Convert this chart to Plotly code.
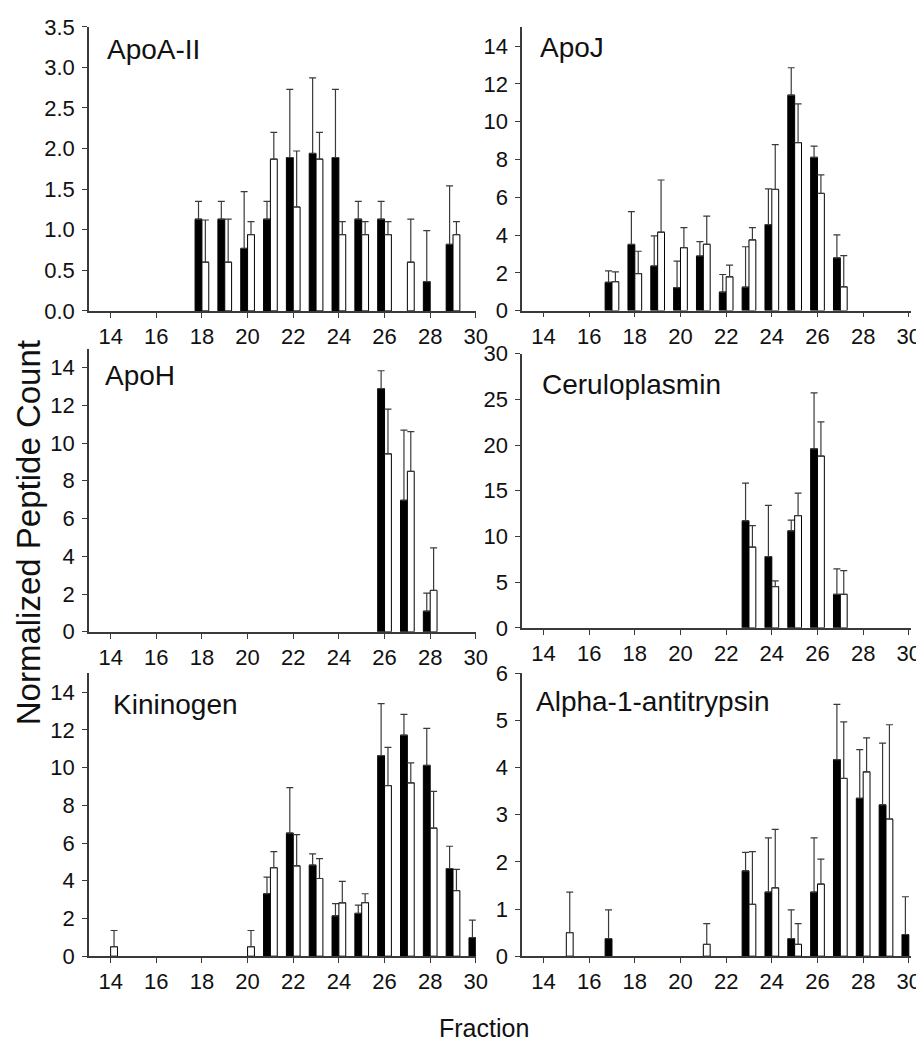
import plotly.graph_objects as go

fractions = list(range(14, 31))  # 14..30

# ApoA-II
apoa2_black = [0, 0, 0, 0, 1.13, 1.13, 0.77, 1.13, 1.89, 1.94, 1.89, 1.13, 1.13, 0, 0.36, 0.82, 0]
apoa2_black_err = [0, 0, 0, 0, 0.22, 0.22, 0.70, 0.22, 0.84, 0.93, 0.84, 0.22, 0.22, 0, 0.63, 0.72, 0]
apoa2_white = [0, 0, 0, 0, 0.60, 0.60, 0.94, 1.87, 1.28, 1.87, 0.94, 0.94, 0.94, 0.60, 0, 0.94, 0]
apoa2_white_err = [0, 0, 0, 0, 0.52, 0.53, 0.16, 0.33, 0.69, 0.33, 0.16, 0.16, 0.16, 0.53, 0, 0.16, 0]

# ApoJ
apoj_black = [0, 0, 0, 1.50, 3.50, 2.36, 1.22, 2.89, 0.98, 1.24, 4.55, 11.40, 8.11, 2.79, 0, 0, 0]
apoj_black_err = [0, 0, 0, 0.60, 1.74, 1.59, 1.40, 0.76, 0.93, 2.14, 1.89, 1.45, 0.59, 1.22, 0, 0, 0]
apoj_white = [0, 0, 0, 1.53, 1.96, 4.15, 3.33, 3.51, 1.79, 3.74, 6.41, 8.89, 6.20, 1.26, 0, 0, 0]
apoj_white_err = [0, 0, 0, 0.52, 1.18, 2.76, 1.06, 1.49, 0.62, 0.65, 2.37, 2.05, 0.98, 1.65, 0, 0, 0]

# ApoH
apoh_black = [0, 0, 0, 0, 0, 0, 0, 0, 0, 0, 0, 0, 12.88, 6.97, 1.09, 0, 0]
apoh_black_err = [0, 0, 0, 0, 0, 0, 0, 0, 0, 0, 0, 0, 0.95, 3.71, 0.96, 0, 0]
apoh_white = [0, 0, 0, 0, 0, 0, 0, 0, 0, 0, 0, 0, 9.43, 8.50, 2.19, 0, 0]
apoh_white_err = [0, 0, 0, 0, 0, 0, 0, 0, 0, 0, 0, 0, 2.37, 2.11, 2.26, 0, 0]

# Ceruloplasmin
cp_black = [0, 0, 0, 0, 0, 0, 0, 0, 0, 11.71, 7.79, 10.61, 19.58, 3.67, 0, 0, 0]
cp_black_err = [0, 0, 0, 0, 0, 0, 0, 0, 0, 4.13, 5.60, 1.17, 6.12, 2.78, 0, 0, 0]
cp_white = [0, 0, 0, 0, 0, 0, 0, 0, 0, 8.83, 4.52, 12.28, 18.79, 3.67, 0, 0, 0]
cp_white_err = [0, 0, 0, 0, 0, 0, 0, 0, 0, 2.35, 0.61, 2.46, 3.74, 2.60, 0, 0, 0]

# Kininogen
kin_black = [0, 0, 0, 0, 0, 0, 0, 3.31, 6.53, 4.83, 2.14, 2.27, 10.64, 11.72, 10.12, 4.65, 0.98]
kin_black_err = [0, 0, 0, 0, 0, 0, 0, 0.88, 2.41, 0.60, 0.65, 0.44, 2.75, 1.10, 1.96, 1.18, 0.93]
kin_white = [0.50, 0, 0, 0, 0, 0, 0.50, 4.69, 4.79, 4.12, 2.83, 2.84, 9.05, 9.19, 6.79, 3.48, 0]
kin_white_err = [0.86, 0, 0, 0, 0, 0, 0.86, 0.86, 1.66, 1.05, 1.14, 0.47, 2.02, 1.06, 1.95, 1.12, 0]

# Alpha-1-antitrypsin
a1at_black = [0, 0, 0, 0.37, 0, 0, 0, 0, 0, 1.81, 1.36, 0.37, 1.36, 4.17, 3.35, 3.21, 0.46]
a1at_black_err = [0, 0, 0, 0.61, 0, 0, 0, 0, 0, 0.39, 1.15, 0.61, 1.15, 1.17, 1.03, 1.31, 0.80]
a1at_white = [0, 0.50, 0, 0, 0, 0, 0, 0.25, 0, 1.10, 1.45, 0.25, 1.53, 3.77, 3.91, 2.91, 0]
a1at_white_err = [0, 0.86, 0, 0, 0, 0, 0, 0.44, 0, 1.12, 1.24, 0.44, 0.53, 1.20, 0.72, 2.00, 0]

panel_names = ["ApoA-II", "ApoJ", "ApoH", "Ceruloplasmin", "Kininogen", "Alpha-1-antitrypsin"]
y_max = [3.5, 15, 15, 30, 15, 6]
y_dtick = [0.5, 2, 2, 5, 2, 1]
y_tickformat = [".1f", "d", "d", "d", "d", "d"]

panels = [
    (apoa2_black, apoa2_black_err, apoa2_white, apoa2_white_err),
    (apoj_black, apoj_black_err, apoj_white, apoj_white_err),
    (apoh_black, apoh_black_err, apoh_white, apoh_white_err),
    (cp_black, cp_black_err, cp_white, cp_white_err),
    (kin_black, kin_black_err, kin_white, kin_white_err),
    (a1at_black, a1at_black_err, a1at_white, a1at_white_err),
]

W, H = 924, 1050
# pixel layout of each panel: (left, right, top(y at max), bottom(y at 0))
px_boxes = [
    (82, 474, 7, 298),
    (521, 915, 7.3, 297.7),
    (82, 474, 336.7, 626.7),
    (521, 915, 341.7, 622.7),
    (82, 474, 669.3, 959),
    (521, 915, 669.3, 959),
]
x_ranges = [[13.05, 30.0], [13.07, 30.1]]
label_pos = [(98, 30), (537, 28), (96, 364), (539, 373), (104, 701), (533, 698)]

FONT = "Liberation Sans, Arial, sans-serif"
AX = "#3a3a3a"
BAR_W = 0.30
TICK_SIZE = 22

fig = go.Figure()
layout = dict(
    width=W, height=H, margin=dict(l=0, r=0, t=0, b=0),
    paper_bgcolor="white", plot_bgcolor="white", showlegend=False,
    barmode="overlay", font=dict(family=FONT, color="#111", size=TICK_SIZE),
)
annotations = []

for i, (blk, blk_e, wht, wht_e) in enumerate(panels):
    n = "" if i == 0 else str(i + 1)
    xa, ya = "x" + n, "y" + n
    bx = [f for f, v in zip(fractions, blk) if v > 0]
    by = [v for v in blk if v > 0]
    be = [e for v, e in zip(blk, blk_e) if v > 0]
    wx = [f for f, v in zip(fractions, wht) if v > 0]
    wy = [v for v in wht if v > 0]
    we = [e for v, e in zip(wht, wht_e) if v > 0]
    fig.add_trace(go.Bar(
        x=[f - BAR_W / 2 for f in bx], y=by, width=BAR_W, xaxis=xa, yaxis=ya,
        marker=dict(color="black", line=dict(color="black", width=1)),
        error_y=dict(type="data", array=be, arrayminus=[0] * len(be), symmetric=False,
                     color=AX, thickness=1.2, width=3.5),
    ))
    fig.add_trace(go.Bar(
        x=[f + BAR_W / 2 for f in wx], y=wy, width=BAR_W, xaxis=xa, yaxis=ya,
        marker=dict(color="white", line=dict(color="black", width=1)),
        error_y=dict(type="data", array=we, arrayminus=[0] * len(we), symmetric=False,
                     color=AX, thickness=1.2, width=3.5),
    ))
    l, r, t, b = px_boxes[i]
    col = i % 2
    layout["xaxis" + n] = dict(
        domain=[l / W, r / W], range=x_ranges[col], anchor=ya,
        tickmode="linear", tick0=14, dtick=2,
        showline=True, linecolor=AX, linewidth=1.5, ticks="outside", ticklen=5,
        tickcolor=AX, tickwidth=1.2, showgrid=False, zeroline=False,
        tickfont=dict(size=TICK_SIZE, family=FONT, color="#111"), fixedrange=True,
    )
    layout["yaxis" + n] = dict(
        domain=[1 - b / H, 1 - t / H], range=[0, y_max[i]], anchor=xa,
        tickmode="linear", tick0=0, dtick=y_dtick[i], tickformat=y_tickformat[i],
        showline=True, linecolor=AX, linewidth=1.5, ticks="outside", ticklen=5,
        tickcolor=AX, tickwidth=1.2, showgrid=False, zeroline=False,
        tickfont=dict(size=TICK_SIZE, family=FONT, color="#111"), ticklabelstandoff=3,
        fixedrange=True,
    )
    lx, ly = label_pos[i]
    annotations.append(dict(
        text=panel_names[i], xref="paper", yref="paper", x=lx / W, y=1 - ly / H,
        xanchor="left", yanchor="middle", showarrow=False,
        font=dict(size=28, family=FONT, color="#111"),
    ))

annotations.append(dict(
    text="Fraction", xref="paper", yref="paper", x=482 / W, y=1 - 1033 / H,
    xanchor="center", yanchor="middle", showarrow=False,
    font=dict(size=25, family=FONT, color="#111"),
))
annotations.append(dict(
    text="Normalized Peptide Count", xref="paper", yref="paper", x=21 / W, y=1 - 525 / H,
    xanchor="center", yanchor="middle", textangle=-90, showarrow=False,
    font=dict(size=33, family=FONT, color="#111"),
))
layout["annotations"] = annotations
fig.update_layout(**layout)
fig.write_html("out.html")
